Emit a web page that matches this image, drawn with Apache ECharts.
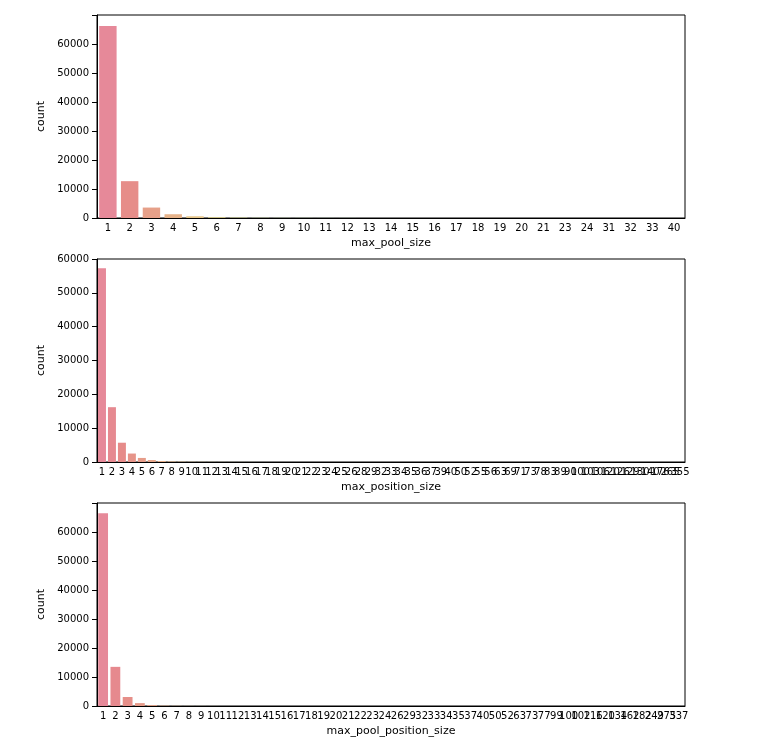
<!DOCTYPE html>
<html>
<head>
<meta charset="UTF-8">
<script src="https://cdn.jsdelivr.net/npm/echarts@6/dist/echarts.min.js"></script>
</head>
<body style="margin:0;background:#fff">
<div id="main" style="width:763px;height:755px"></div>
<script>
// 数据
var poolCats = ['1','2','3','4','5','6','7','8','9','10','11','12','13','14','15','16','17','18','19','20','21','23','24','31','32','33','40'];
var poolVals = [66200,12700,3600,1300,600,250,120,60,40,30,20,15,10,8,6,5,4,3,3,2,2,1,1,1,1,1,1];

var posCats = ['1','2','3','4','5','6','7','8','9','10','11','12','13','14','15','16','17','18','19','20','21','22','23','24','25','26','28','29','32','33','34','35','36','37','39','40','50','52','55','56','63','69','71','73','78','83','89','90','100','103','106','120','126','129','130','140','176','265','355'];
var posVals = [57300,16200,5700,2500,1200,600,300,160,100,60,40,30,20,15,12,10,8,6,5,4,3,3,2,2,2,2,1,1,1,1,1,1,1,1,1,1,1,1,1,1,1,1,1,1,1,1,1,1,1,1,1,1,1,1,1,1,1,1,1];

var pposCats = ['1','2','3','4','5','6','7','8','9','10','11','12','13','14','15','16','17','18','19','20','21','22','23','24','26','29','32','33','34','35','37','40','50','52','63','73','77','99','100','102','116','120','134','162','182','249','275','337'];
var pposVals = [66500,13500,3100,1000,300,120,60,30,20,12,8,6,4,3,3,2,2,2,1,1,1,1,1,1,1,1,1,1,1,1,1,1,1,1,1,1,1,1,1,1,1,1,1,1,1,1,1,1];

var chart = echarts.init(document.getElementById('main'));

function colors(n) {
    var out = [];
    for (var i = 0; i < n; i++) {
        var h = (350 + i * 330 / n) % 360;
        out.push('hsl(' + h + ',65%,72%)');
    }
    return out;
}
function mkData(vals) {
    var c = colors(vals.length);
    return vals.map(function (v, i) { return {value: v, itemStyle: {color: c[i]}}; });
}

var tops = [15, 259, 503];
var names = ['max_pool_size', 'max_position_size', 'max_pool_position_size'];
var cats = [poolCats, posCats, pposCats];
var vals = [poolVals, posVals, pposVals];
var maxes = [70000, 60000, 70000];

var grids = [], xs = [], ys = [], series = [];
for (var k = 0; k < 3; k++) {
    grids.push({left: 97, right: 78, top: tops[k], height: 203, show: true, borderColor: '#000', borderWidth: 1});
    xs.push({
        type: 'category', gridIndex: k, data: cats[k], name: names[k],
        nameLocation: 'middle', nameGap: 20,
        nameTextStyle: {color: '#000', fontSize: 11, fontFamily: 'DejaVu Sans'},
        axisLine: {lineStyle: {color: '#000'}},
        axisTick: {alignWithLabel: true, lineStyle: {color: '#000'}},
        axisLabel: {interval: 0, color: '#000', fontSize: 10, margin: 5, fontFamily: 'DejaVu Sans'}
    });
    ys.push({
        type: 'value', gridIndex: k, min: 0, max: maxes[k], interval: 10000, name: 'count',
        nameLocation: 'middle', nameGap: 45, nameRotate: 90,
        nameTextStyle: {color: '#000', fontSize: 11, fontFamily: 'DejaVu Sans'},
        axisLine: {show: true, lineStyle: {color: '#000'}},
        axisTick: {show: true, lineStyle: {color: '#000'}},
        splitLine: {show: false},
        axisLabel: {color: '#000', fontSize: 10, fontFamily: 'DejaVu Sans',
            formatter: function (v) { return (k === 1 || v < 70000) ? v : ''; }}
    });
    series.push({type: 'bar', xAxisIndex: k, yAxisIndex: k, data: mkData(vals[k]), barCategoryGap: '20%'});
}
ys[0].axisLabel.formatter = function (v) { return v === 70000 ? '' : v; };
ys[2].axisLabel.formatter = function (v) { return v === 70000 ? '' : v; };

chart.setOption({animation: false, grid: grids, xAxis: xs, yAxis: ys, series: series});
</script>
</body>
</html>
